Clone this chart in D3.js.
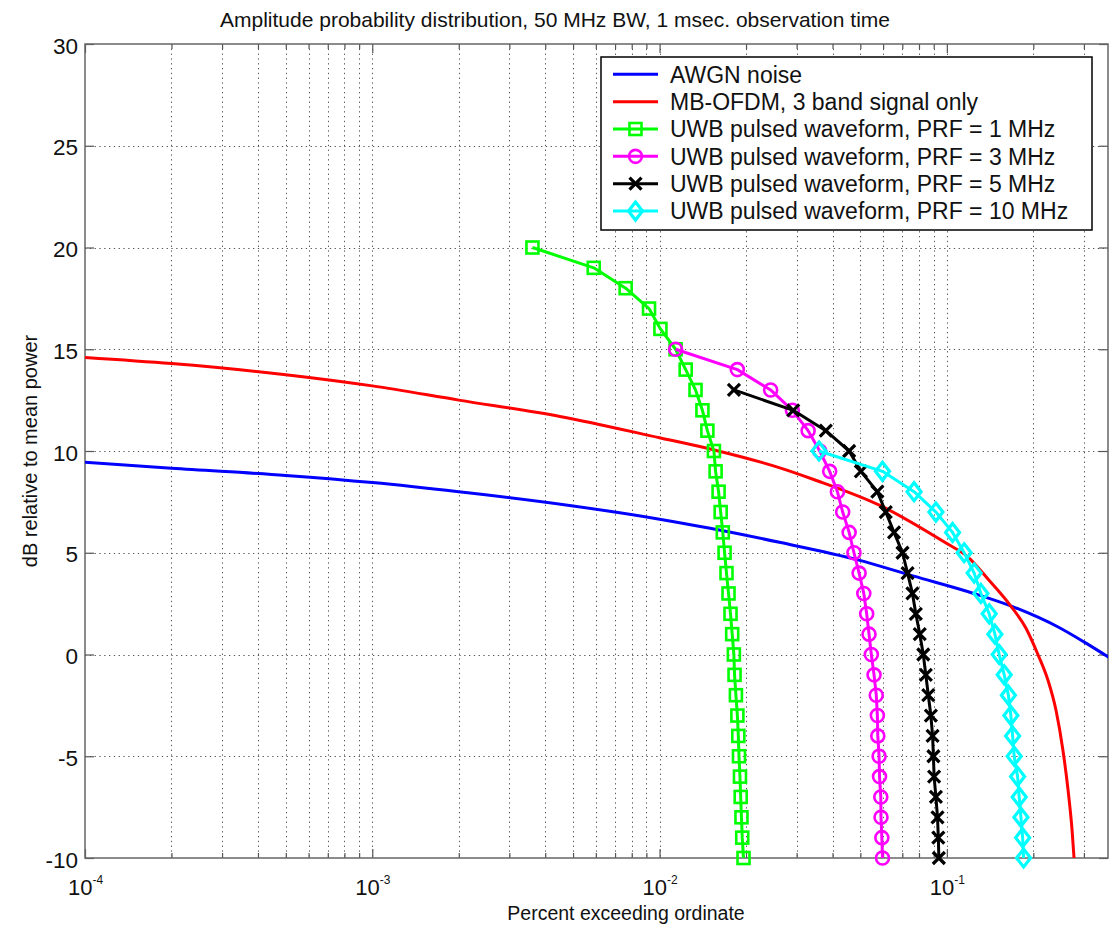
<!DOCTYPE html>
<html>
<head>
<meta charset="utf-8">
<script src="https://cdn.jsdelivr.net/npm/d3@7"></script>
<style>
  body { margin: 0; background: #fff; }
  svg { font-family: "Liberation Sans", Arial, Helvetica, sans-serif; }
</style>
</head>
<body>
<script>
// values
var awgnX = [1e-4, 2e-4, 5e-4, 1e-3, 2e-3, 5e-3, 1e-2, 1.5e-2, 2.64e-2, 4.9e-2, 7.67e-2, 0.124, 0.171, 0.244, 0.3, 0.372]
var awgnY = [9.45, 9.15, 8.8, 8.45, 8.0, 7.3, 6.65, 6.2, 5.5, 4.65, 3.85, 3.0, 2.33, 1.35, 0.62, -0.2]

var ofdmX = [1e-4, 2e-4, 5e-4, 1e-3, 2e-3, 4.5e-3, 1e-2, 1.55e-2, 2.64e-2, 3.44e-2, 5.9e-2, 0.1, 0.118, 0.14, 0.167,
  0.1884, 0.2075, 0.2248, 0.2398, 0.2535, 0.2642, 0.2728, 0.2772]
var ofdmY = [14.6, 14.3, 13.75, 13.2, 12.5, 11.7, 10.65, 10.05, 9.16, 8.6, 7.3, 5.45, 4.81, 3.66, 2.38,
  1.3, 0, -1.25, -2.73, -4.69, -6.66, -8.62, -10]

var prf1Y = [20, 19, 18, 17, 16, 15, 14, 13, 12, 11, 10, 9, 8, 7, 6, 5, 4, 3, 2, 1, 0, -1, -2, -3, -4, -5, -6, -7, -8, -9, -10]
var prf1X = [0.00361, 0.0059, 0.00762, 0.00919, 0.01007, 0.01137, 0.01233, 0.01334, 0.0141, 0.01467, 0.01546, 0.01567,
  0.01605, 0.01632, 0.0166, 0.01684, 0.0171, 0.01738, 0.01766, 0.0179, 0.01814, 0.01824, 0.01844, 0.01866, 0.0188,
  0.0189, 0.01905, 0.01916, 0.01928, 0.0194, 0.0196]

var prf3Y = [15, 14, 13, 12, 11, 10, 9, 8, 7, 6, 5, 4, 3, 2, 1, 0, -1, -2, -3, -4, -5, -6, -7, -8, -9, -10]
var prf3X = [0.01137, 0.01865, 0.02436, 0.029, 0.0329, 0.0361, 0.0391, 0.0416, 0.0434, 0.0457, 0.0475, 0.0495, 0.0514,
  0.0526, 0.0536, 0.0546, 0.0558, 0.0568, 0.0573, 0.0575, 0.0581, 0.0583, 0.0589, 0.059, 0.0594, 0.0597]

var prf5Y = [13, 12, 11, 10, 9, 8, 7, 6, 5, 4, 3, 2, 1, 0, -1, -2, -3, -4, -5, -6, -7, -8, -9, -10]
var prf5X = [0.01815, 0.0292, 0.0379, 0.0457, 0.0502, 0.0573, 0.0613, 0.0655, 0.0701, 0.073, 0.0759, 0.078, 0.0805,
  0.0828, 0.0845, 0.0862, 0.088, 0.0892, 0.0898, 0.0903, 0.0916, 0.0928, 0.0934, 0.0938]

var prf10Y = [10, 9, 8, 7, 6, 5, 4, 3, 2, 1, 0, -1, -2, -3, -4, -5, -6, -7, -8, -9, -10]
var prf10X = [0.0359, 0.0597, 0.0769, 0.0916, 0.1047, 0.1149, 0.1245, 0.1314, 0.1404, 0.147, 0.1521, 0.1584, 0.1638,
  0.1671, 0.1694, 0.1716, 0.1763, 0.1786, 0.1811, 0.1836, 0.185]

var seriesNames = ["AWGN noise", "MB-OFDM, 3 band signal only", "UWB pulsed waveform, PRF = 1 MHz",
  "UWB pulsed waveform, PRF = 3 MHz", "UWB pulsed waveform, PRF = 5 MHz", "UWB pulsed waveform, PRF = 10 MHz"]
var seriesColors = ["#0000ff", "#ff0000", "#00ff00", "#ff00ff", "#000000", "#00ffff"]
var seriesMarkers = ["none", "none", "square", "circle", "x", "diamond"]

var yTicks = [-10, -5, 0, 5, 10, 15, 20, 25, 30]
var xMajor = [1e-4, 1e-3, 1e-2, 1e-1]

var xs = [awgnX, ofdmX, prf1X, prf3X, prf5X, prf10X]
var ys = [awgnY, ofdmY, prf1Y, prf3Y, prf5Y, prf10Y]
var series = seriesNames.map(function(name, i) {
  return {
    name: name, color: seriesColors[i], marker: seriesMarkers[i],
    points: xs[i].map(function(v, j) { return [v, ys[i][j]] })
  }
})

var W = 1110, H = 928
var plotL = 85, plotR = 1108, plotT = 44, plotB = 858

var svg = d3.select("body").append("svg").attr("width", W).attr("height", H)

var x = d3.scaleLog().domain([1e-4, Math.pow(10, -0.439)]).range([plotL, plotR])
var y = d3.scaleLinear().domain([-10, 30]).range([plotB, plotT])

var allX = x.ticks().filter(function(d) { return d > 1e-4 * 1.001 && d < x.domain()[1] })
var xMinor = allX.filter(function(d) {
  return !xMajor.some(function(m) { return Math.abs(d / m - 1) < 1e-6 })
})

svg.append("clipPath").attr("id", "plot")
  .append("rect").attr("x", plotL).attr("y", plotT).attr("width", plotR - plotL).attr("height", plotB - plotT)

// grid
var grid = svg.append("g").attr("class", "grid")
  .attr("stroke", "#555").attr("stroke-width", 1).attr("stroke-dasharray", "1.3,3.5")
grid.selectAll("line.gx")
  .data(allX)
  .enter().append("line")
    .attr("class", "gx")
    .attr("x1", function(d) { return Math.round(x(d)) + 0.5 })
    .attr("x2", function(d) { return Math.round(x(d)) + 0.5 })
    .attr("y1", plotT).attr("y2", plotB)
grid.selectAll("line.gy")
  .data(yTicks.slice(1, -1))
  .enter().append("line")
    .attr("class", "gy")
    .attr("y1", function(d) { return Math.round(y(d)) + 0.5 })
    .attr("y2", function(d) { return Math.round(y(d)) + 0.5 })
    .attr("x1", plotL).attr("x2", plotR)

// axes
function styleAxis(g) {
  g.select(".domain").remove()
  g.selectAll(".tick line").attr("stroke", "#555").attr("stroke-width", 1.2)
}

svg.append("g")
  .attr("transform", "translate(" + plotL + ",0)")
  .call(d3.axisLeft(y).tickValues(yTicks).tickSize(-9).tickSizeOuter(0).tickPadding(7).tickFormat(String))
  .call(styleAxis)
  .selectAll("text")
    .attr("font-size", 22.5).attr("fill", "#111").attr("font-family", null).attr("dy", "0.4em")

svg.append("g")
  .attr("transform", "translate(" + plotR + ",0)")
  .call(d3.axisRight(y).tickValues(yTicks).tickSize(-9).tickSizeOuter(0).tickFormat(""))
  .call(styleAxis)

var xb = svg.append("g")
  .attr("transform", "translate(0," + plotB + ")")
  .call(d3.axisBottom(x).tickValues(xMajor).tickSize(-9).tickSizeOuter(0).tickFormat(""))
  .call(styleAxis)
svg.append("g")
  .attr("transform", "translate(0," + plotB + ")")
  .call(d3.axisBottom(x).tickValues(xMinor).tickSize(-5).tickSizeOuter(0).tickFormat(""))
  .call(styleAxis)
svg.append("g")
  .attr("transform", "translate(0," + plotT + ")")
  .call(d3.axisTop(x).tickValues(xMajor).tickSize(-9).tickSizeOuter(0).tickFormat(""))
  .call(styleAxis)
svg.append("g")
  .attr("transform", "translate(0," + plotT + ")")
  .call(d3.axisTop(x).tickValues(xMinor).tickSize(-5).tickSizeOuter(0).tickFormat(""))
  .call(styleAxis)

// x tick labels 10^n
xb.selectAll(".tick").each(function(d) {
  var t = d3.select(this).append("text")
    .attr("fill", "#111").attr("text-anchor", "middle").attr("y", 37).attr("x", 0)
    .attr("font-family", "Liberation Sans, Arial, sans-serif")
  t.append("tspan").attr("font-size", 22).text("10")
  t.append("tspan").attr("font-size", 12).attr("dy", -11).text(String(Math.round(Math.log10(d))))
})

// box
svg.append("rect")
  .attr("x", plotL).attr("y", plotT).attr("width", plotR - plotL).attr("height", plotB - plotT)
  .attr("fill", "none").attr("stroke", "#666").attr("stroke-width", 1.5)

// series
var smooth = d3.line()
  .curve(d3.curveMonotoneX)
  .x(function(d) { return x(d[0]) })
  .y(function(d) { return y(d[1]) })
var straight = d3.line()
  .x(function(d) { return x(d[0]) })
  .y(function(d) { return y(d[1]) })

function drawMarker(sel, type, color) {
  if (type === "square") {
    sel.append("rect").attr("x", -6).attr("y", -6).attr("width", 12).attr("height", 12)
      .attr("fill", "none").attr("stroke", color).attr("stroke-width", 2.6)
  } else if (type === "circle") {
    sel.append("circle").attr("r", 6.5)
      .attr("fill", "none").attr("stroke", color).attr("stroke-width", 2.6)
  } else if (type === "x") {
    sel.append("path").attr("d", "M-6,-6L6,6M-6,6L6,-6")
      .attr("fill", "none").attr("stroke", color).attr("stroke-width", 3.2)
  } else if (type === "diamond") {
    sel.append("path").attr("d", "M0,-9L7,0L0,9L-7,0Z")
      .attr("fill", "none").attr("stroke", color).attr("stroke-width", 3.2)
  }
}

var sg = svg.selectAll("g.series")
  .data(series)
  .enter().append("g")
    .attr("class", "series")

sg.append("path")
  .attr("clip-path", "url(#plot)")
  .attr("fill", "none")
  .attr("stroke", function(d) { return d.color })
  .attr("stroke-width", 3)
  .attr("stroke-linejoin", "round")
  .attr("d", function(d) { return d.marker === "none" ? smooth(d.points) : straight(d.points) })

sg.each(function(s) {
  if (s.marker === "none") return
  d3.select(this).selectAll("g.mk")
    .data(s.points)
    .enter().append("g")
      .attr("class", "mk")
      .attr("transform", function(d) { return "translate(" + x(d[0]) + "," + y(d[1]) + ")" })
      .each(function() { drawMarker(d3.select(this), s.marker, s.color) })
})

// legend
var lg = svg.append("g").attr("transform", "translate(601,57)")
lg.append("rect")
  .attr("width", 491).attr("height", 173)
  .attr("fill", "#fff").attr("stroke", "#000").attr("stroke-width", 1.5)

var item = lg.selectAll("g.item")
  .data(series)
  .enter().append("g")
    .attr("class", "item")
    .attr("transform", function(d, i) { return "translate(0," + (17.3 + i * 27.35) + ")" })

item.append("line")
  .attr("x1", 12).attr("x2", 57)
  .attr("stroke", function(d) { return d.color })
  .attr("stroke-width", 3)
item.each(function(s) {
  var m = d3.select(this).append("g").attr("transform", "translate(34.5,0)")
  drawMarker(m, s.marker, s.color)
})
item.append("text")
  .attr("x", 69).attr("dy", "0.36em")
  .attr("font-size", 23).attr("fill", "#111")
  .text(function(d) { return d.name })

// titles
svg.append("text")
  .attr("x", 555).attr("y", 27)
  .attr("text-anchor", "middle").attr("font-size", 21).attr("fill", "#111")
  .text("Amplitude probability distribution, 50 MHz BW, 1 msec. observation time")

svg.append("text")
  .attr("x", 626).attr("y", 920)
  .attr("text-anchor", "middle").attr("font-size", 19.5).attr("fill", "#111")
  .text("Percent exceeding ordinate")

svg.append("text")
  .attr("transform", "translate(37," + ((plotT + plotB) / 2) + ") rotate(-90)")
  .attr("text-anchor", "middle").attr("font-size", 20).attr("fill", "#111")
  .text("dB relative to mean power")
</script>
</body>
</html>
